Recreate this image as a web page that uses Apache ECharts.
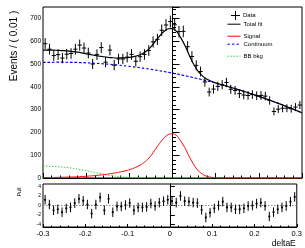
<!DOCTYPE html>
<html>
<head>
<meta charset="utf-8">
<script src="https://cdn.jsdelivr.net/npm/echarts@6/dist/echarts.min.js"></script>
<style>
html,body{margin:0;padding:0;background:#fff;}
#chart{width:305px;height:248px;}
</style>
</head>
<body>
<div id="chart"></div>
<script>
// deltaE fit, 60 bins of 0.01 in [-0.3, 0.3]
var binCenters = [-0.295,-0.285,-0.275,-0.265,-0.255,-0.245,-0.235,-0.225,-0.215,-0.205,
  -0.195,-0.185,-0.175,-0.165,-0.155,-0.145,-0.135,-0.125,-0.115,-0.105,
  -0.095,-0.085,-0.075,-0.065,-0.055,-0.045,-0.035,-0.025,-0.015,-0.005,
  0.005,0.015,0.025,0.035,0.045,0.055,0.065,0.075,0.085,0.095,
  0.105,0.115,0.125,0.135,0.145,0.155,0.165,0.175,0.185,0.195,
  0.205,0.215,0.225,0.235,0.245,0.255,0.265,0.275,0.285,0.295];
var dataCounts = [589,565,537,541,526,543,546,565,583,570,
  548,500,541,572,508,561,495,522,522,530,
  542,512,532,542,559,597,608,648,671,686,
  672,642,643,576,533,494,467,421,377,390,
  402,409,419,389,384,370,364,362,366,361,
  362,359,340,292,302,306,306,304,311,320];
var pulls = [1.2,0.2,-1.0,-0.8,-1.4,-0.6,-0.4,0.5,1.4,1.0,
  0.2,-1.7,0.2,1.7,-1.0,1.4,-1.4,-0.2,-0.2,0.1,
  0.5,-1.0,-0.4,-0.4,-0.3,0.4,-0.1,0.6,0.9,1.2,
  0.9,0.6,2.0,0.9,0.8,0.6,0.5,-0.9,-2.5,-1.5,
  -0.6,0.0,0.8,-0.4,-0.4,-0.8,-0.8,-0.6,-0.1,0.0,
  0.4,0.6,-0.1,-2.3,-1.4,-0.8,-0.4,-0.1,0.8,1.8];

// fit curves sampled every 0.01
var curveX = [-0.30,-0.29,-0.28,-0.27,-0.26,-0.25,-0.24,-0.23,-0.22,-0.21,
  -0.20,-0.19,-0.18,-0.17,-0.16,-0.15,-0.14,-0.13,-0.12,-0.11,
  -0.10,-0.09,-0.08,-0.07,-0.06,-0.05,-0.04,-0.03,-0.02,-0.01,
  0.00,0.01,0.02,0.03,0.04,0.05,0.06,0.07,0.08,0.09,
  0.10,0.11,0.12,0.13,0.14,0.15,0.16,0.17,0.18,0.19,
  0.20,0.21,0.22,0.23,0.24,0.25,0.26,0.27,0.28,0.29,0.30];
var totalFit = [561.2,561.0,560.5,560.3,559.3,558.3,556.5,554.2,551.7,548.6,
  544.8,541.4,537.8,534.6,531.8,529.3,527.6,526.4,526.5,526.9,
  528.7,532.4,537.4,545.3,557.2,575.1,598.9,622.6,642.2,654.6,
  655.0,642.3,612.4,576.3,533.2,495.8,466.4,446.8,433.0,424.2,
  417.1,411.3,405.6,400.2,394.6,388.9,383.0,377.0,370.8,364.5,
  358.1,351.5,344.8,337.9,330.9,323.8,316.5,309.0,301.5,293.7,285.9];
var signalPdf = [1.5,1.8,2,2.5,3,3.5,4,4.5,5.5,6.5,
  7.5,9,10.5,12.5,14.5,17,20,23,27,31,
  36,43,51,62,77,98,125,152,175,191,
  195,186,160,128,89,56,31,16,7,3,
  1,0.3,0,0,0,0,0,0,0,0,
  0,0,0,0,0,0,0,0,0,0,0];
var continuumPdf = [506.7,507.2,507.5,507.8,507.8,507.8,507.5,507.2,506.7,506.1,
  505.3,504.4,503.3,502.1,500.8,499.3,497.6,495.9,494.0,491.9,
  489.7,487.4,484.9,482.3,479.5,476.6,473.6,470.4,467.1,463.6,
  460.0,456.3,452.4,448.3,444.2,439.8,435.4,430.8,426.0,421.2,
  416.1,411.0,405.6,400.2,394.6,388.9,383.0,377.0,370.8,364.5,
  358.1,351.5,344.8,337.9,330.9,323.8,316.5,309.0,301.5,293.7,285.9];
var bbBkg = [53,52,51,50,48.5,47,45,42.5,39.5,36,
  32,28,24,20,16.5,13,10,7.5,5.5,4,
  3,2,1.5,1,0.7,0.5,0.3,0.2,0.1,0,
  0,0,0,0,0,0,0,0,0,0,
  0,0,0,0,0,0,0,0,0,0,
  0,0,0,0,0,0,0,0,0,0,0];
var pullTicks = [-4, -2, 0, 2, 4];
var binHalf = 0.005;

var font = 'Liberation Sans, Arial, Helvetica, sans-serif';

function pairs(xs, ys) {
  return xs.map(function (x, i) { return [x, ys[i]]; });
}

var chart = echarts.init(document.getElementById('chart'), null, { renderer: 'canvas' });

function axisX(gi, showLabel) {
  return {
    gridIndex: gi, type: 'value', min: -0.3, max: 0.3, interval: 0.1,
    axisLine: { onZero: false, lineStyle: { color: '#000', width: 1 } },
    axisTick: { inside: true, length: gi === 0 ? 5 : 3, lineStyle: { color: '#000' } },
    minorTick: { show: true, splitNumber: 5, length: gi === 0 ? 2.5 : 1.5, lineStyle: { color: '#000' } },
    axisLabel: { show: showLabel, color: '#000', fontSize: 7.5, fontFamily: font, margin: 3 },
    splitLine: { show: false }
  };
}

// legend rows (ROOT TLegend look)
var legendRows = [
  { name: 'Data', top: 11, left: 231, w: 9, h: 9, icon: 'path://M0,4H9V5H0ZM4,0H5V9H4Z' },
  { name: 'Total fit', top: 21, left: 227 },
  { name: 'Signal', top: 33, left: 227 },
  { name: 'Continuum', top: 41, left: 227 },
  { name: 'BB bkg', top: 53, left: 227 }
];

var option = {
  animation: false,
  backgroundColor: '#fff',
  grid: [
    { left: 43, right: 3, top: 7, height: 171, show: true, borderColor: '#000', borderWidth: 1 },
    { left: 43, right: 3, top: 184, height: 46, show: true, borderColor: '#000', borderWidth: 1 }
  ],
  xAxis: [axisX(0, false), Object.assign(axisX(1, true), {
    name: 'deltaE', nameLocation: 'end', nameGap: -1,
    nameTextStyle: { color: '#000', fontSize: 8.5, fontFamily: font, align: 'right', verticalAlign: 'top', padding: [12, 0, 0, 0] }
  })],
  yAxis: [
    {
      gridIndex: 0, type: 'value', min: 0, max: 750, interval: 100,
      axisLine: { lineStyle: { color: '#000' } },
      axisTick: { inside: true, length: 7, lineStyle: { color: '#000' } },
      minorTick: { show: true, splitNumber: 5, length: 3.5, lineStyle: { color: '#000' } },
      axisLabel: { color: '#000', fontSize: 6.5, fontFamily: font, margin: 2, showMaxLabel: false },
      splitLine: { show: false }
    },
    {
      gridIndex: 1, type: 'value', min: -4.5, max: 4.5,
      axisLine: { lineStyle: { color: '#000' } },
      axisTick: { inside: true, length: 5, customValues: pullTicks, lineStyle: { color: '#000' } },
      axisLabel: { color: '#000', fontSize: 5, fontFamily: font, margin: 2, customValues: pullTicks },
      splitLine: { show: false }
    }
  ],
  legend: legendRows.map(function (l) {
    var lg = {
      data: [l.name], top: l.top, left: l.left, padding: 0,
      itemWidth: l.w || 13, itemHeight: l.h || 8,
      selectedMode: false,
      textStyle: { color: '#000', fontSize: 6, fontFamily: font, padding: [0, 0, 0, -2] }
    };
    if (l.icon) {
      lg.icon = l.icon;
    } else {
      lg.itemStyle = { opacity: 0 };
      lg.lineStyle = { width: 1 };
    }
    return lg;
  }),
  graphic: [
    { type: 'text', x: 14, y: 46, rotation: Math.PI / 2,
      style: { text: 'Events / ( 0.01 )', font: '10px ' + font, fill: '#000', textAlign: 'center', textVerticalAlign: 'middle' } },
    { type: 'text', x: 19, y: 192, rotation: Math.PI / 2,
      style: { text: 'Pull', font: '5.5px ' + font, fill: '#000', textAlign: 'center', textVerticalAlign: 'middle' } }
  ],
  series: [
    {
      name: 'BB bkg', type: 'line', xAxisIndex: 0, yAxisIndex: 0, symbol: 'none',
      data: pairs(curveX, bbBkg), color: '#3fcf3f',
      lineStyle: { color: '#3fcf3f', width: 1, type: [1.5, 1.5] }, z: 2
    },
    {
      name: 'Continuum', type: 'line', xAxisIndex: 0, yAxisIndex: 0, symbol: 'none',
      data: pairs(curveX, continuumPdf), color: '#0000ff', smooth: 0.2,
      lineStyle: { color: '#0000ff', width: 1.2, type: [2.5, 2] }, z: 3
    },
    {
      name: 'Signal', type: 'line', xAxisIndex: 0, yAxisIndex: 0, symbol: 'none',
      data: pairs(curveX, signalPdf), color: '#ff0000', smooth: 0.2,
      lineStyle: { color: '#ff0000', width: 1 }, z: 3
    },
    {
      name: 'Total fit', type: 'line', xAxisIndex: 0, yAxisIndex: 0, symbol: 'none',
      data: pairs(curveX, totalFit), color: '#000', smooth: 0.2,
      lineStyle: { color: '#000', width: 1.2 }, z: 4
    },
    {
      name: 'Data', type: 'custom', xAxisIndex: 0, yAxisIndex: 0,
      data: pairs(binCenters, dataCounts), itemStyle: { color: '#000' }, z: 5,
      encode: { x: 0, y: 1 },
      renderItem: function (params, api) {
        var x = api.value(0), n = api.value(1), e = Math.sqrt(n);
        var l = api.coord([x - binHalf, n]), r = api.coord([x + binHalf, n]);
        var t = api.coord([x, n + e]), b = api.coord([x, n - e]);
        var st = { stroke: '#000', lineWidth: 1 };
        return { type: 'group', children: [
          { type: 'line', shape: { x1: l[0], y1: l[1], x2: r[0], y2: r[1] }, style: st },
          { type: 'line', shape: { x1: t[0], y1: t[1], x2: b[0], y2: b[1] }, style: st }
        ] };
      }
    },
    {
      name: 'zero', type: 'line', xAxisIndex: 1, yAxisIndex: 1, symbol: 'none',
      data: [[-0.3, 0], [0.3, 0]], lineStyle: { color: '#888', width: 1, type: [1.5, 1.5] }, z: 2
    },
    {
      name: 'Pull', type: 'custom', xAxisIndex: 1, yAxisIndex: 1,
      data: pairs(binCenters, pulls), itemStyle: { color: '#000' }, z: 5,
      encode: { x: 0, y: 1 },
      renderItem: function (params, api) {
        var x = api.value(0), p = api.value(1);
        var c = api.coord([x, p]), t = api.coord([x, p + 1]), b = api.coord([x, p - 1]);
        return { type: 'group', children: [
          { type: 'line', shape: { x1: t[0], y1: t[1], x2: b[0], y2: b[1] }, style: { stroke: '#000', lineWidth: 1 } },
          { type: 'circle', shape: { cx: c[0], cy: c[1], r: 1.1 }, style: { fill: '#000' } }
        ] };
      }
    }
  ]
};

chart.setOption(option);
</script>
</body>
</html>
